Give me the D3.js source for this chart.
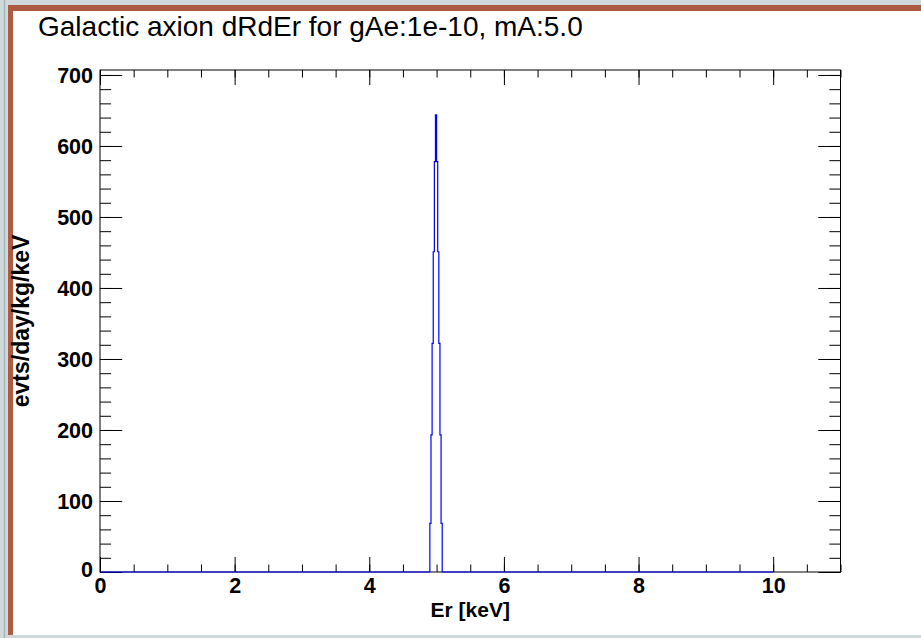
<!DOCTYPE html>
<html>
<head>
<meta charset="utf-8">
<script src="https://cdn.jsdelivr.net/npm/d3@7"></script>
<style>
  html, body { margin: 0; padding: 0; background: #cfd9dc; }
  svg { display: block; }
  text { font-family: "Liberation Sans", Arial, Helvetica, sans-serif; }
</style>
</head>
<body>
<svg id="chart" width="921" height="638"></svg>
<script>
// histogram: 600 bins of 1/60 keV from 0 to 10, only bins 294..304 are non-zero
var histRange = [0, 10];
var binsPerKeV = 60;
var firstPeakBin = 294;
var peakValues = [68.6, 193, 322, 451, 578, 644, 578, 451, 322, 193, 68.6];

var xDomain = [0, 11];
var yDomain = [0, 707];
var xMajor = [0, 2, 4, 6, 8, 10];
var yMajor = [0, 100, 200, 300, 400, 500, 600, 700];

var titleText = 'Galactic axion dRdEr for gAe:1e-10, mA:5.0';
var xTitle = 'Er [keV]';
var yTitle = 'evts/day/kg/keV';

/**************************************************************************************/

var svg = d3.select('#chart');

// pad frame (canvas border)
svg.append('line').attr('x1', 4.5).attr('x2', 4.5).attr('y1', 0).attr('y2', 638)
    .attr('stroke', '#a4b8bc').attr('stroke-width', 1.5);
svg.append('rect').attr('x', 8).attr('y', 5).attr('width', 913).attr('height', 630).attr('fill', '#ad5b42');
svg.append('rect').attr('x', 13).attr('y', 11).attr('width', 908).attr('height', 624).attr('fill', '#ffffff');

var fr = { left: 100, right: 840.5, top: 70, bottom: 572 };

var x = d3.scaleLinear().domain(xDomain).range([fr.left, fr.right]);
var y = d3.scaleLinear().domain(yDomain).range([fr.bottom, fr.top]);

var plotW = fr.right - fr.left, plotH = fr.bottom - fr.top;
var xTick = 0.03 * plotH, yTick = 0.03 * plotW;

var xMinor = d3.range(xDomain[0], xDomain[1] + 0.001, 0.5);
var yMinor = d3.range(0, 700 + 0.001, 20);

function drawAxis(axisFn, pos, scale, vals, size, labels){
    var g = svg.append('g').attr('transform', pos)
        .call(axisFn(scale).tickValues(vals).tickSizeInner(-size).tickSizeOuter(0)
            .tickPadding(labels ? 6 : 0).tickFormat(labels ? d3.format('d') : ''));
    g.select('.domain').remove();
    g.selectAll('.tick line').attr('stroke', '#000').attr('stroke-width', 1);
    g.selectAll('.tick text').attr('font-size', 21.5).attr('font-weight', 'bold').attr('fill', '#000')
        .attr('font-family', '"Liberation Sans", Arial, sans-serif');
    return g;
}

// minor ticks
drawAxis(d3.axisBottom, 'translate(0,' + fr.bottom + ')', x, xMinor, xTick / 2, false);
drawAxis(d3.axisTop, 'translate(0,' + fr.top + ')', x, xMinor, xTick / 2, false);
drawAxis(d3.axisLeft, 'translate(' + fr.left + ',0)', y, yMinor, yTick / 2, false);
drawAxis(d3.axisRight, 'translate(' + fr.right + ',0)', y, yMinor, yTick / 2, false);

// major ticks
var gx = drawAxis(d3.axisBottom, 'translate(0,' + fr.bottom + ')', x, xMajor, xTick, true);
drawAxis(d3.axisTop, 'translate(0,' + fr.top + ')', x, xMajor, xTick, false);
var gy = drawAxis(d3.axisLeft, 'translate(' + fr.left + ',0)', y, yMajor, yTick, true);
drawAxis(d3.axisRight, 'translate(' + fr.right + ',0)', y, yMajor, yTick, false);

// label placement like ROOT: x labels below, y labels left of the axis
gx.selectAll('.tick text').attr('y', 6).attr('dy', '0.71em');
gy.selectAll('.tick text').attr('x', -7).attr('dy', '0.36em');
gy.selectAll('.tick').filter(function(d){ return d === 0; }).select('text').attr('dy', '0.2em');

// frame
svg.append('rect').attr('x', fr.left).attr('y', fr.top).attr('width', plotW).attr('height', plotH)
    .attr('fill', 'none').attr('stroke', '#000').attr('stroke-width', 1);

// histogram outline
var pts = [[histRange[0], 0]];
peakValues.forEach(function(v, i){ pts.push([(firstPeakBin + i) / binsPerKeV, v]); });
pts.push([(firstPeakBin + peakValues.length) / binsPerKeV, 0]);
pts.push([histRange[1], 0]);

var line = d3.line().x(function(d){ return x(d[0]); }).y(function(d){ return y(d[1]); })
    .curve(d3.curveStepAfter);
svg.append('path').datum(pts).attr('d', line)
    .attr('fill', 'none').attr('stroke', '#0000ff').attr('stroke-width', 1.2);

// titles
svg.append('text').attr('x', 38).attr('y', 36).attr('font-size', 28).text(titleText);
svg.append('text').attr('x', (fr.left + fr.right) / 2).attr('y', 617).attr('text-anchor', 'middle')
    .attr('font-size', 21).attr('font-weight', 'bold').text(xTitle);
svg.append('text').attr('transform', 'translate(29,' + ((fr.top + fr.bottom) / 2) + ') rotate(-90)')
    .attr('text-anchor', 'middle').attr('font-size', 23).attr('font-weight', 'bold').text(yTitle);

// bottom strip
svg.append('rect').attr('x', 13).attr('y', 635).attr('width', 908).attr('height', 3).attr('fill', '#cfd9dc');
</script>
</body>
</html>
